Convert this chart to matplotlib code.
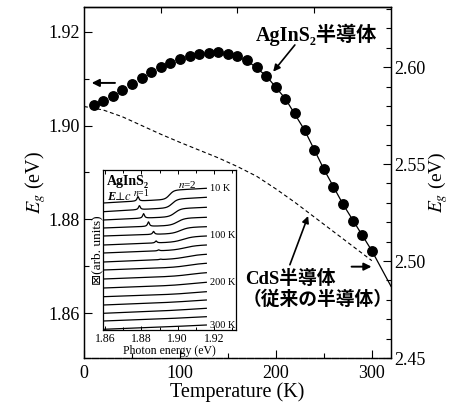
import numpy as np
import matplotlib
matplotlib.use('Agg')
import matplotlib.pyplot as plt
from matplotlib.ticker import MultipleLocator, FixedLocator, NullFormatter

plt.rcParams['font.family'] = ['Liberation Serif', 'DejaVu Serif']
plt.rcParams['mathtext.fontset'] = 'stix'

# ---------------- main data ----------------
temp_agins2 = [10, 20, 30, 40, 50, 60, 70, 80, 90, 100, 110, 120, 130, 140, 150,
               160, 170, 180, 190, 200, 210, 220, 230, 240, 250, 260, 270, 280, 290, 300]
eg_agins2 = [1.9044, 1.9052, 1.9063, 1.9075, 1.9088, 1.9101, 1.9114, 1.9125, 1.9134, 1.9141,
             1.9148, 1.9153, 1.9155, 1.9156, 1.9153, 1.9148, 1.9139, 1.9126, 1.9106, 1.9083,
             1.9057, 1.9026, 1.8990, 1.8948, 1.8907, 1.8868, 1.8832, 1.8797, 1.8766, 1.8733]

fit_temp = [130, 150, 170, 190, 210, 230, 250, 270, 290, 300, 320]
fit_eg = [1.9155, 1.9153, 1.9139, 1.9106, 1.9057, 1.8990, 1.8907, 1.8832, 1.8766, 1.8733, 1.8657]

temp_cds = [0, 20, 40, 60, 80, 100, 120, 140, 160, 180, 200, 220, 240, 260, 280, 300]
eg_cds = [2.5797, 2.5779, 2.5744, 2.5699, 2.5654, 2.5612, 2.5572, 2.5532, 2.5487, 2.5437,
          2.5372, 2.5302, 2.5227, 2.5152, 2.5077, 2.5002]

# ---------------- inset data (pixel-like arbitrary units) ----------------
spec_labels = ['10 K', '100 K', '200 K', '300 K']
spec_label_idx = [0, 5, 10, 15]
spec_left = [127.0, 118.3, 110.0, 102.0, 94.0, 85.0, 77.0, 68.0, 60.0, 51.0, 42.0, 33.3, 25.0, 16.7, 9.0, 0.7]
spec_right = [141.7, 132.7, 122.7, 112.7, 103.3, 94.0, 85.0, 75.7, 66.7, 57.3, 47.7, 38.3, 30.0, 21.7, 13.3, 5.0]
step_size = [9.0, 8.5, 8.0, 7.0, 6.0, 5.0, 4.0, 3.5, 3.0, 2.5, 2.0, 1.5, 1.0, 0.8, 0.5, 0.3]
step_energy = [1.8955, 1.8970, 1.8985, 1.9000, 1.9015, 1.9030, 1.9040, 1.9050, 1.9060, 1.9070,
               1.9070, 1.9080, 1.9080, 1.9080, 1.9080, 1.9080]
step_width = [0.0012, 0.0014, 0.0016, 0.0019, 0.0022, 0.0026, 0.0030, 0.0035, 0.0040, 0.0045,
              0.0050, 0.0050, 0.0060, 0.0060, 0.0060, 0.0060]
peak_energy = [1.8781, 1.8789, 1.8812, 1.8839, 1.8867, 1.8881, 1.8895, 1.8905, 1.891, 1.891,
               1.891, 1.891, 1.891, 1.891, 1.891, 1.891]
peak_height = [4.5, 4.0, 4.5, 4.5, 3.0, 2.0, 1.0, 0.5, 0, 0, 0, 0, 0, 0, 0, 0]

# ---------------- figure ----------------
fig = plt.figure(figsize=(4.5, 4.05), dpi=100)
ax = fig.add_axes([84 / 450, 1 - 358 / 405, (391 - 84) / 450, (358 - 7) / 405])
ax2 = ax.twinx()

ax.set_xlim(0, 320)
ax.set_ylim(1.8504, 1.9253)
ax2.set_ylim(2.45, 2.631)

ax.plot(fit_temp, fit_eg, '-', color='k', lw=0.9, zorder=2)
ax.plot(temp_agins2, eg_agins2, 'o', color='k', ms=6.8, zorder=3)
ax2.plot(temp_cds, eg_cds, color='k', lw=0.8, ls=(0, (3.5, 2.5)))

for a in (ax, ax2):
    for s in a.spines.values():
        s.set_linewidth(0.9)
    a.spines['bottom'].set_linestyle((0, (5, 1.2)))

ax.xaxis.set_major_locator(MultipleLocator(100))
ax.xaxis.set_minor_locator(MultipleLocator(50))
ax.yaxis.set_major_locator(MultipleLocator(0.02))
ax.yaxis.set_minor_locator(MultipleLocator(0.01))
ax.yaxis.set_major_formatter(plt.FormatStrFormatter('%.2f'))
ax2.yaxis.set_major_locator(MultipleLocator(0.05))
ax2.yaxis.set_minor_locator(MultipleLocator(0.01))
ax2.yaxis.set_major_formatter(plt.FormatStrFormatter('%.2f'))

ax.tick_params(which='major', direction='in', length=6, width=0.8, labelsize=13, pad=3)
ax.tick_params(which='minor', direction='in', length=3.5, width=0.8)
ax.tick_params(axis='x', pad=5)
ax2.tick_params(which='major', direction='in', length=6, width=0.8, labelsize=13, pad=2)
ax2.tick_params(which='minor', direction='in', length=3.5, width=0.8)

sec = ax.secondary_xaxis('top')
sec.xaxis.set_major_locator(FixedLocator([80, 160, 240]))
sec.xaxis.set_major_formatter(NullFormatter())
sec.tick_params(direction='in', length=4, width=0.8)
sec.spines['top'].set_linewidth(0.9)

ax.set_xlabel('Temperature (K)', fontsize=14.5, labelpad=0)
ax.set_ylabel(r'$E_g$ (eV)', fontsize=14.5, labelpad=0)
ax2.set_ylabel(r'$E_g$ (eV)', fontsize=14, labelpad=0.5)

# axis-indicator arrows
arrow_kw = dict(arrowstyle='-|>', color='k', lw=1.4, mutation_scale=11, shrinkA=0, shrinkB=0)
ax.annotate('', xy=(8.0, 1.9091), xytext=(32.3, 1.9091), arrowprops=arrow_kw)
ax2.annotate('', xy=(299.7, 2.4971), xytext=(278.9, 2.4971), arrowprops=arrow_kw)

# labels with pointers
cjk = ['Liberation Serif', 'DejaVu Serif', 'Noto Sans CJK JP']
ax.text(179, 1.9193, 'AgInS\u2082半導体', family=cjk, fontweight='bold', fontsize=14.5,
        ha='left', va='center')
ax.annotate('', xy=(197.2, 1.9115), xytext=(219.8, 1.9172),
            arrowprops=dict(arrowstyle='-|>', color='k', lw=1.2, mutation_scale=10,
                            shrinkA=0, shrinkB=0))
ax.text(167.7, 1.8673, 'CdS半導体', family=cjk, fontweight='bold', fontsize=13.5,
        ha='left', va='center')
ax.text(165.5, 1.8630, '\uff08従来の半導体\uff09', family=['Noto Sans CJK JP'], fontweight='bold',
        fontsize=13.5, ha='left', va='center')
ax.annotate('', xy=(233.6, 1.8807), xytext=(214.6, 1.8703),
            arrowprops=dict(arrowstyle='-|>', color='k', lw=1.2, mutation_scale=10,
                            shrinkA=0, shrinkB=0))

# ---------------- inset ----------------
axin = fig.add_axes([103.3 / 450, 1 - 330 / 405, (235.7 - 103.3) / 450, (330 - 170) / 405])
axin.set_facecolor('white')
axin.set_xlim(1.859, 1.932)
axin.set_ylim(0, 160)

E = np.linspace(1.859, 1.9158, 800)
e0, e1 = E[0], E[-1]
for i in range(len(spec_left)):
    sig = 1 / (1 + np.exp(-(E - step_energy[i]) / step_width[i]))
    s = (sig - sig[0]) / (sig[-1] - sig[0])
    lor = peak_height[i] / (1 + ((E - peak_energy[i]) / 0.0006) ** 2)
    y = spec_left[i] + (spec_right[i] - spec_left[i] - step_size[i]) * (E - e0) / (e1 - e0) \
        + step_size[i] * s + lor
    axin.plot(E, y, color='k', lw=0.9)

for lab, idx in zip(spec_labels, spec_label_idx):
    axin.text(1.9178, spec_right[idx], lab, fontsize=7.5, ha='left', va='center')

axin.xaxis.set_major_locator(MultipleLocator(0.02))
axin.xaxis.set_minor_locator(MultipleLocator(0.01))
axin.xaxis.set_major_formatter(plt.FormatStrFormatter('%.2f'))
axin.set_yticks([])
axin.tick_params(which='major', direction='in', length=3, width=0.7, labelsize=8.5, pad=2,
                 top=True)
axin.tick_params(which='minor', direction='in', length=2, width=0.7, top=True)
for s in axin.spines.values():
    s.set_linewidth(0.9)
axin.set_xlabel('Photon energy (eV)', fontsize=8.5, labelpad=0)
axin.set_ylabel('\u22a0(arb. units)', fontsize=9.5, labelpad=0,
                family=['Liberation Serif', 'DejaVu Sans'])

axin.text(1.8612, 149, 'AgInS\u2082', fontsize=10, fontweight='bold', ha='left', va='center')
axin.text(1.8612, 132.5, 'E', fontsize=9, fontweight='bold', fontstyle='italic',
          ha='left', va='center')
axin.text(1.8653, 132.5, '\u22a5', fontsize=8, ha='left', va='center',
          family=['DejaVu Serif'])
axin.text(1.8703, 132.5, r'$c$', fontsize=9, ha='left', va='center')
axin.text(1.8756, 137.5, r'$n$=1', fontsize=7, ha='left', va='center')
axin.text(1.9000, 145, r'$n$=2', fontsize=8, ha='left', va='center')

fig.savefig('out.png', dpi=100)
